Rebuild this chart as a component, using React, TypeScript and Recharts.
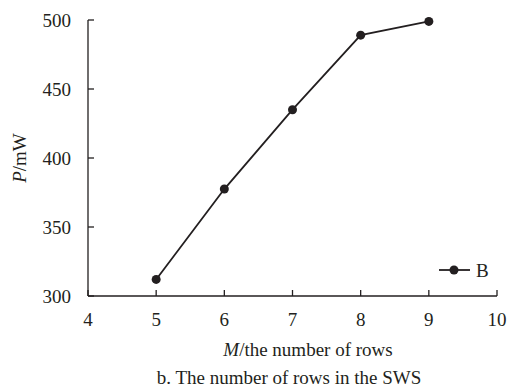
import React from 'react';
import { LineChart, Line, XAxis, YAxis } from 'recharts';

const rows = [5, 6, 7, 8, 9];
const power = [312, 377.5, 435, 489, 499];
const xTicks = [4, 5, 6, 7, 8, 9, 10];
const yTicks = [300, 350, 400, 450, 500];
const seriesName = 'B';

const data = rows.map((m, i) => ({ m, B: power[i] }));

const INK = '#231f20';
const FONT = '"Liberation Serif", "Times New Roman", serif';
const FS = 19;
const TICK_GAP = 17;

const XTick = ({ x, y, payload }: any) => (
  <g>
    <line x1={x} x2={x} y1={y - TICK_GAP} y2={y - TICK_GAP - 6} stroke={INK} strokeWidth={1.3} />
    <text x={x} y={y} dy="0.68em" textAnchor="middle" fill={INK} fontSize={FS} fontFamily={FONT}>
      {payload.value}
    </text>
  </g>
);

const YTick = ({ x, y, payload }: any) => (
  <g>
    <line x1={x + TICK_GAP} x2={x + TICK_GAP + 6} y1={y} y2={y} stroke={INK} strokeWidth={1.3} />
    <text x={x} y={y} dy="0.35em" textAnchor="end" fill={INK} fontSize={FS} fontFamily={FONT}>
      {payload.value}
    </text>
  </g>
);

const LegendBox = () => (
  <svg width={64} height={24} style={{ position: 'absolute', left: 437, top: 259 }}>
    <line x1={2} x2={33} y1={11} y2={11} stroke={INK} strokeWidth={1.8} />
    <circle cx={17} cy={11} r={4.5} fill={INK} />
    <text x={39} y={11} dy="0.35em" fill={INK} fontSize={FS} fontFamily={FONT}>{seriesName}</text>
  </svg>
);

export default function App() {
  return (
    <div style={{ position: 'absolute', left: 0, top: 0, width: 507, height: 389, background: '#fff' }}>
      <LineChart
        width={507}
        height={389}
        data={data}
        margin={{ top: 20, right: 10, bottom: 0, left: 0 }}
      >
        <XAxis
          dataKey="m"
          type="number"
          domain={[4, 10]}
          ticks={xTicks}
          interval={0}
          height={93}
          tickSize={0}
          tickMargin={TICK_GAP}
          tick={<XTick />}
          stroke={INK}
          strokeWidth={1.3}
          label={() => (
            <g fontFamily={FONT} fill={INK} fontSize={FS}>
              <text x={308} y={356} textAnchor="middle">
                <tspan fontStyle="italic">M</tspan>/the number of rows
              </text>
              <text x={289} y={384} textAnchor="middle">
                b. The number of rows in the SWS
              </text>
            </g>
          )}
        />
        <YAxis
          type="number"
          domain={[300, 500]}
          ticks={yTicks}
          interval={0}
          width={88}
          tickSize={0}
          tickMargin={TICK_GAP}
          tick={<YTick />}
          stroke={INK}
          strokeWidth={1.3}
          label={() => (
            <text
              x={26}
              y={158}
              transform="rotate(-90 26 158)"
              textAnchor="middle"
              fontFamily={FONT}
              fill={INK}
              fontSize={FS}
            >
              <tspan fontStyle="italic">P</tspan>/mW
            </text>
          )}
        />
        <Line
          dataKey="B"
          name={seriesName}
          stroke={INK}
          strokeWidth={1.8}
          dot={{ r: 4.5, fill: INK, stroke: INK, strokeWidth: 0 }}
          isAnimationActive={false}
        />
      </LineChart>
      <LegendBox />
    </div>
  );
}
